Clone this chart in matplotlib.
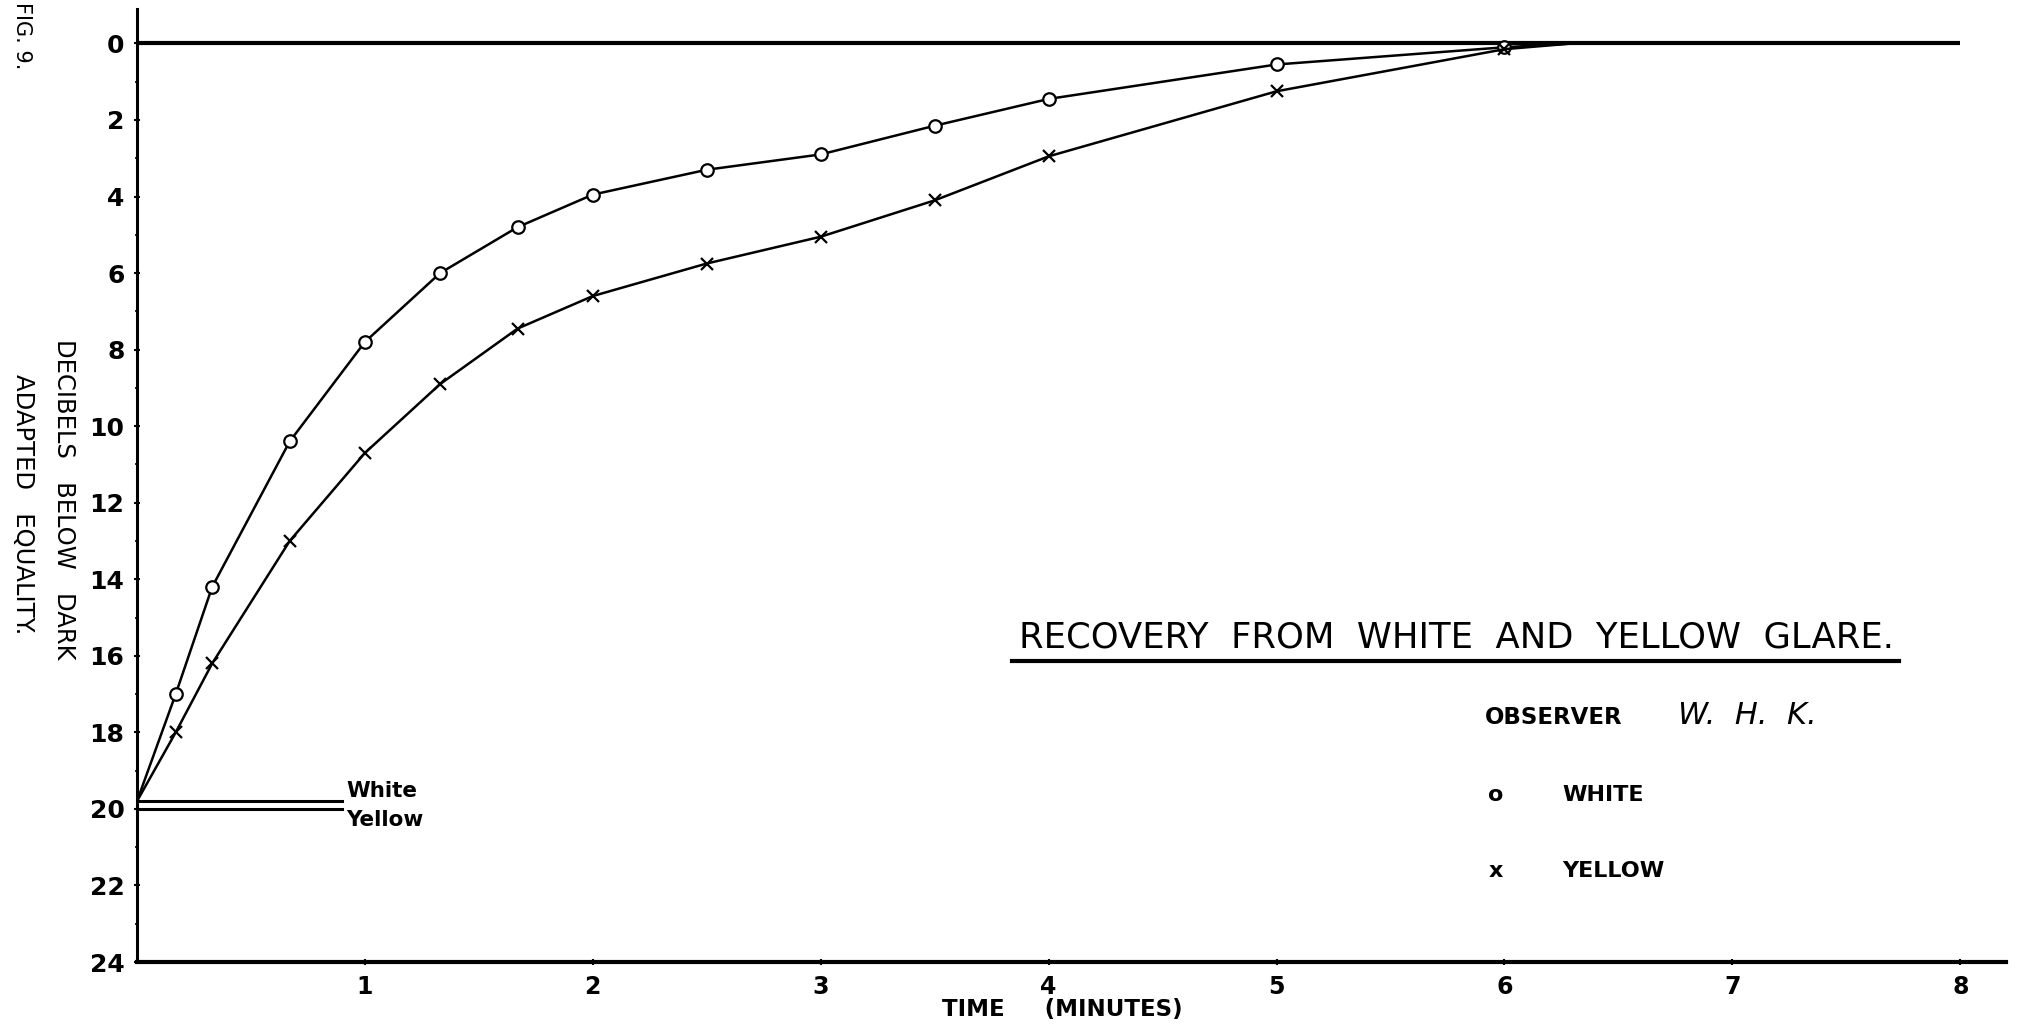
import numpy as np
import matplotlib.pyplot as plt
from matplotlib.lines import Line2D
from matplotlib.ticker import MultipleLocator

# Recovery readings (minutes after glare, decibels below dark adapted equality)
times = [0.17, 0.33, 0.67, 1.0, 1.33, 1.67, 2.0, 2.5, 3.0, 3.5, 4.0, 5.0, 6.0]
white = [17.0, 14.2, 10.4, 7.8, 6.0, 4.8, 3.95, 3.3, 2.9, 2.15, 1.45, 0.55, 0.1]
yellow = [18.0, 16.2, 13.0, 10.7, 8.9, 7.45, 6.6, 5.75, 5.05, 4.1, 2.95, 1.25, 0.15]

# where both curves leave the glare level and where they run into the zero line
start_t, start_db = 0.0, 19.8
merge_t, merge_db = 6.3, 0.0

# initial levels just after the glare
glare_levels = {"White": 19.8, "Yellow": 20.0}
glare_len = 0.9

yticks = list(range(0, 25, 2))
xticks = list(range(1, 9))

plt.rcParams['font.family'] = ['DejaVu Sans']

fig = plt.figure(figsize=(20.17, 10.33), dpi=100)
ax = fig.add_axes([0.0679, 0.0687, 0.9266, 0.9226])
ax.set_xlim(0, 8.2)
ax.set_ylim(24, -0.9)

for s in ['top', 'right']:
    ax.spines[s].set_visible(False)
ax.spines['left'].set_linewidth(2.2)
ax.spines['bottom'].set_linewidth(3.0)

# zero line
ax.plot([0, 8], [0, 0], color='black', lw=3.0, solid_capstyle='butt')

# short glare level lines
for name, lvl in glare_levels.items():
    ax.plot([0, glare_len], [lvl, lvl], color='black', lw=2.2)
ax.text(glare_len + 0.02, glare_levels["White"] - 0.27, "White", fontsize=15.5,
        fontweight='bold', va='center', ha='left')
ax.text(glare_len + 0.02, glare_levels["Yellow"] + 0.28, "Yellow", fontsize=15.5,
        fontweight='bold', va='center', ha='left')

# curves
wx = [start_t] + times + [merge_t]
wy = [start_db] + white + [merge_db]
yx = [start_t] + times + [merge_t]
yy = [start_db] + yellow + [merge_db]
n = len(times)
ax.plot(wx, wy, color='black', lw=1.8, marker='o', ms=9, mfc='white',
        mec='black', mew=1.6, markevery=list(range(1, n + 1)))
ax.plot(yx, yy, color='black', lw=1.8, marker='x', ms=8, mec='black',
        mew=1.6, markevery=list(range(1, n + 1)))

# ticks
ax.set_yticks(yticks)
ax.set_yticklabels([str(v) for v in yticks], fontsize=18, fontweight='bold')
ax.yaxis.set_minor_locator(MultipleLocator(1))
ax.set_xticks(xticks)
ax.set_xticklabels([str(v) for v in xticks], fontsize=17, fontweight='bold')
ax.xaxis.set_minor_locator(MultipleLocator(1 / 3))
ax.tick_params(axis='y', which='major', length=4, width=1.5, direction='inout', pad=7)
ax.tick_params(axis='y', which='minor', length=3, width=1.2, direction='inout')
ax.tick_params(axis='x', which='major', length=4, width=1.5, direction='inout', pad=7)
ax.tick_params(axis='x', which='minor', length=3, width=1.2, direction='inout')

# axis titles
fig.text(0.5265, 0.0223, "TIME     (MINUTES)", fontsize=16.5, fontweight='bold',
         ha='center', va='center')
fig.text(0.0317, 0.517, "DECIBELS   BELOW   DARK", fontsize=17.5, rotation=-90,
         ha='center', va='center')
fig.text(0.0114, 0.512, "ADAPTED   EQUALITY.", fontsize=17.5, rotation=-90,
         ha='center', va='center')
fig.text(0.011, 0.998, "FIG. 9.", fontsize=15, rotation=-90, ha='center',
         va='top')

# title block
fig.text(0.7223, 0.3824, "RECOVERY  FROM  WHITE  AND  YELLOW  GLARE.",
         fontsize=25.5, ha='center', va='center')
fig.add_artist(Line2D([0.5017, 0.9416], [0.3601, 0.3601], color='black', lw=3.0,
                      transform=fig.transFigure))
fig.text(0.7363, 0.3053, "OBSERVER", fontsize=16.5, fontweight='bold',
         ha='left', va='center')
fig.text(0.8319, 0.3078, "W.  H.  K.", fontsize=22, style='italic',
         ha='left', va='center')
fig.text(0.7417, 0.2304, "o", fontsize=16, fontweight='bold', ha='center', va='center')
fig.text(0.7744, 0.2304, "WHITE", fontsize=16, fontweight='bold', ha='left', va='center')
fig.text(0.7417, 0.1572, "x", fontsize=16, fontweight='bold', ha='center', va='center')
fig.text(0.7744, 0.1572, "YELLOW", fontsize=16, fontweight='bold', ha='left', va='center')

fig.savefig('out.png', dpi=100, facecolor='white')
